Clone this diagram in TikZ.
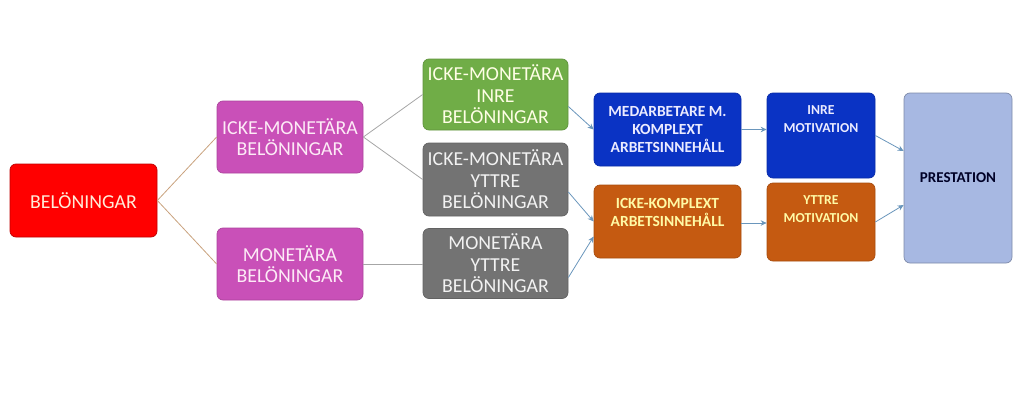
\documentclass[tikz,border=0pt]{standalone}
\usepackage{fontspec}
\setmainfont{Carlito}
\usetikzlibrary{arrows.meta}

\definecolor{belred}{HTML}{FF0000}
\definecolor{belpink}{HTML}{C950B8}
\definecolor{belgreen}{HTML}{70AD47}
\definecolor{belgray}{HTML}{737373}
\definecolor{belblue}{HTML}{0A33C4}
\definecolor{belorange}{HTML}{C55A11}
\definecolor{belprest}{HTML}{A7B8E2}
\definecolor{linetan}{HTML}{C9A27E}
\definecolor{linegray}{HTML}{A6A6A6}
\definecolor{arrowblue}{HTML}{6A96BC}

\begin{document}
\begin{tikzpicture}[x=1pt, y=-1pt,
  box/.style={rounded corners=6pt, align=center, inner sep=1pt, line width=0.7pt},
  big/.style={font=\fontsize{19.8}{21.5}\selectfont},
  small/.style={font=\bfseries\fontsize{15.5}{18}\selectfont},
  motiv/.style={font=\bfseries\fontsize{13.7}{18}\selectfont},
  toptext/.style={align=center, anchor=north, yshift=-13pt, inner sep=0pt},
  tanline/.style={draw=linetan, line width=0.8pt},
  grayline/.style={draw=linegray, line width=0.8pt},
  arr/.style={draw=arrowblue, line width=0.8pt, -{Stealth[length=6pt,width=5.5pt]}}]
  \useasboundingbox (0,0) rectangle (1024,404);

  \node[box, big, fill=belred, draw=belred!75!black, text=orange!15, minimum width=147pt, minimum height=73pt] (bel) at (83.5,200.5) {BELÖNINGAR};

  \node[box, big, fill=belpink, draw=belpink!85!black, text=white!92!magenta, minimum width=146pt, minimum height=72pt] (icke) at (290,137) {ICKE-MONETÄRA\\BELÖNINGAR};
  \node[box, big, fill=belpink, draw=belpink!85!black, text=white!92!magenta, minimum width=146pt, minimum height=72pt] (mon) at (290,264) {MONETÄRA\\BELÖNINGAR};

  \node[box, big, fill=belgreen, draw=belgreen!85!black, text=white!90!yellow, minimum width=145pt, minimum height=71pt] (inre) at (495.5,94.5) {ICKE-MONETÄRA\\INRE\\BELÖNINGAR};
  \node[box, big, fill=belgray, draw=belgray!85!black, text=white!95!black, minimum width=145pt, minimum height=73pt] (yttre) at (495.5,179.5) {ICKE-MONETÄRA\\YTTRE\\BELÖNINGAR};
  \node[box, big, fill=belgray, draw=belgray!85!black, text=white!95!black, minimum width=145pt, minimum height=70pt] (monytt) at (495.5,263.5) {MONETÄRA\\YTTRE\\BELÖNINGAR};

  \node[box, small, fill=belblue, draw=belblue!85!black, text=white!92!blue, minimum width=147pt, minimum height=73pt] (komplex) at (667.5,129.5) {MEDARBETARE M.\\KOMPLEXT\\ARBETSINNEHÅLL};
  \node[box, fill=belorange, draw=belorange!85!black, minimum width=147pt, minimum height=73pt,
    label={[toptext, small, text=yellow!35!white]north:{ICKE-KOMPLEXT\\ARBETSINNEHÅLL}}] (ickekomp) at (667.5,221.5) {};

  \node[box, fill=belblue, draw=belblue!85!black, minimum width=108pt, minimum height=85pt,
    label={[toptext, motiv, text=white!92!blue]north:{INRE\\MOTIVATION}}] (inremot) at (821,135.5) {};
  \node[box, fill=belorange, draw=belorange!85!black, minimum width=108pt, minimum height=78pt,
    label={[toptext, motiv, text=yellow!35!white]north:{YTTRE\\MOTIVATION}}] (yttremot) at (821,222) {};

  \node[box, fill=belprest, draw=belprest!75!black, text=black!85!blue, font=\bfseries\fontsize{15}{18}\selectfont, minimum width=108pt, minimum height=170pt] (prest) at (958,178) {PRESTATION};

  \draw[tanline] (bel.east) -- (icke.west);
  \draw[tanline] (bel.east) -- (mon.west);
  \draw[grayline] (icke.east) -- (inre.west);
  \draw[grayline] (icke.east) -- (yttre.west);
  \draw[grayline] (mon.east) -- (mon.east -| monytt.west);

  \draw[arr] ([yshift=-12pt]inre.east) -- (komplex.west);
  \draw[arr] ([yshift=-12.5pt]yttre.east) -- (ickekomp.west);
  \draw[arr] ([yshift=-14pt]monytt.east) -- ([yshift=-15pt]ickekomp.west);
  \draw[arr] (komplex.east) -- (komplex.east -| inremot.west);
  \draw[arr] ([yshift=-1.5pt]ickekomp.east) -- ([yshift=-1.5pt]ickekomp.east -| yttremot.west);
  \draw[arr] (inremot.east) -- ([yshift=27pt]prest.west);
  \draw[arr] (yttremot.east) -- ([yshift=-27pt]prest.west);
\end{tikzpicture}
\end{document}
